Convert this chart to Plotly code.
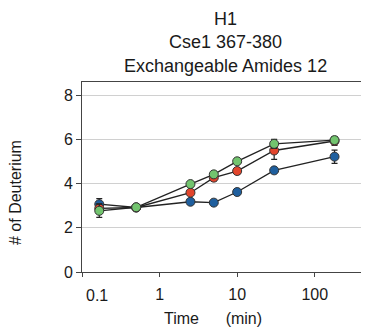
import plotly.graph_objects as go

time_min = [0.167, 0.5, 2.5, 5, 10, 30, 180]
blue = [3.07, 2.92, 3.18, 3.14, 3.62, 4.60, 5.22]
blue_err = [0.25, 0.05, 0.08, 0.08, 0.08, 0.08, 0.30]
red = [2.88, 2.92, 3.59, 4.27, 4.57, 5.50, 5.93]
red_err = [0.2, 0.05, 0.1, 0.15, 0.15, 0.40, 0.20]
green = [2.77, 2.93, 3.98, 4.42, 5.01, 5.80, 5.97]
green_err = [0.3, 0.05, 0.08, 0.1, 0.08, 0.2, 0.15]

series = [
    ("blue", blue, blue_err, "#1f5f9e"),
    ("red", red, red_err, "#e2452c"),
    ("green", green, green_err, "#72c46e"),
]

x_ticks = [0.1, 1, 10, 100]
x_tick_text = ["", "1", "10", "100"]
y_ticks = [0, 2, 4, 6, 8]

fig = go.Figure()
for name, ys, err, col in series:
    fig.add_trace(go.Scatter(
        x=time_min, y=ys, name=name, mode="lines+markers",
        line=dict(color="#222222", width=1.3),
        marker=dict(color=col, size=9, line=dict(color="#333333", width=1)),
        error_y=dict(type="data", array=err, color="#222222", thickness=1.2, width=3),
        showlegend=False,
    ))

# The page body has an 8px margin, so the figure is sized to fill the rest.
OFF = 8
W, H = 361, 321
ML, MR, MT, MB = 74, 5, 74, 57
plot_w = W - ML - MR
plot_h = H - MT - MB


def px_to_paper(px, py):
    return (px - OFF - ML) / plot_w, (OFF + H - MB - py) / plot_h


font = "Liberation Sans, Arial, sans-serif"
fig.update_layout(
    width=W, height=H,
    margin=dict(l=ML, r=MR, t=MT, b=MB),
    paper_bgcolor="white", plot_bgcolor="white",
    font=dict(family=font, size=16, color="#1a1a1a"),
    xaxis=dict(
        type="log", range=[-1, 2.635],
        tickvals=x_ticks, ticktext=x_tick_text,
        ticks="outside", ticklen=4, tickcolor="#444444",
        ticklabelstandoff=4,
        showgrid=False, showline=True, linecolor="#444444", linewidth=1, mirror=True,
        zeroline=False, tickfont=dict(size=16),
    ),
    yaxis=dict(
        range=[0, 8.6], tickvals=y_ticks,
        ticks="outside", ticklen=5, tickcolor="#444444",
        showgrid=True, gridcolor="#d0d0d0", gridwidth=1,
        showline=True, linecolor="#444444", linewidth=1, mirror=True,
        zeroline=False, tickfont=dict(size=16),
    ),
)

anns = []
x, y = px_to_paper(225, 42)
anns.append(dict(text="H1<br>Cse1 367-380<br>Exchangeable Amides 12",
                 x=x, y=y, xref="paper", yref="paper", xanchor="center", yanchor="middle",
                 showarrow=False, font=dict(size=18)))
x, y = px_to_paper(15, 193)
anns.append(dict(text="# of Deuterium", textangle=-90, x=x, y=y, xref="paper", yref="paper",
                 xanchor="center", yanchor="middle", showarrow=False, font=dict(size=16)))
x, y = px_to_paper(213, 318)
anns.append(dict(text="Time&nbsp;&nbsp;&nbsp;&nbsp;&nbsp;&nbsp;(min)", x=x, y=y,
                 xref="paper", yref="paper", xanchor="center", yanchor="middle",
                 showarrow=False, font=dict(size=16)))
x, y = px_to_paper(97, 295)
anns.append(dict(text="0.1", x=x, y=y, xref="paper", yref="paper",
                 xanchor="center", yanchor="middle", showarrow=False, font=dict(size=16)))
fig.update_layout(annotations=anns)

fig.write_html("out.html")
